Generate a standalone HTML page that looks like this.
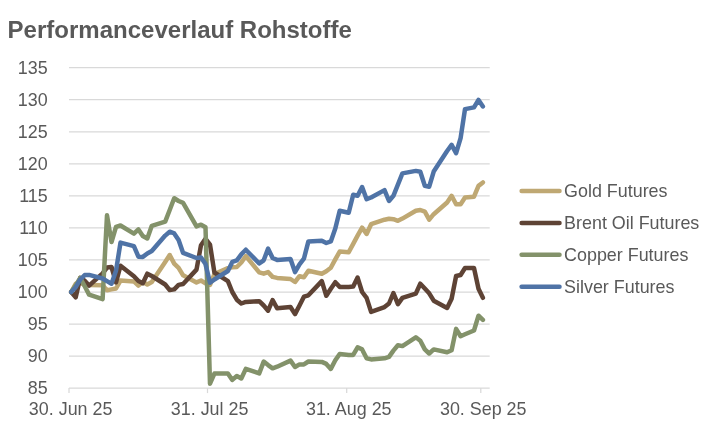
<!DOCTYPE html>
<html lang="de"><head><meta charset="utf-8"><title>Performanceverlauf Rohstoffe</title>
<style>html,body{margin:0;padding:0;background:#fff}svg{display:block;filter:blur(0.4px)}</style></head>
<body>
<svg width="720" height="432" viewBox="0 0 720 432">
<rect width="720" height="432" fill="#fff"/>
<g stroke="#D9D9D9" stroke-width="1.25" fill="none">
<line x1="69.0" y1="388.1" x2="489.7" y2="388.1"/>
<line x1="69.0" y1="356.1" x2="489.7" y2="356.1"/>
<line x1="69.0" y1="324.1" x2="489.7" y2="324.1"/>
<line x1="69.0" y1="292.0" x2="489.7" y2="292.0"/>
<line x1="69.0" y1="259.9" x2="489.7" y2="259.9"/>
<line x1="69.0" y1="227.9" x2="489.7" y2="227.9"/>
<line x1="69.0" y1="195.8" x2="489.7" y2="195.8"/>
<line x1="69.0" y1="163.8" x2="489.7" y2="163.8"/>
<line x1="69.0" y1="131.8" x2="489.7" y2="131.8"/>
<line x1="69.0" y1="99.7" x2="489.7" y2="99.7"/>
<line x1="69.0" y1="67.7" x2="489.7" y2="67.7"/>
<line x1="69.0" y1="388.1" x2="69.0" y2="393.1"/>
<line x1="207.5" y1="388.1" x2="207.5" y2="393.1"/>
<line x1="346.7" y1="388.1" x2="346.7" y2="393.1"/>
<line x1="480.8" y1="388.1" x2="480.8" y2="393.1"/>
</g>
<g font-family="'Liberation Sans', Arial, Helvetica, sans-serif" fill="#595959">
<text x="7.6" y="37.6" font-size="23.6" font-weight="bold" textLength="344.3" lengthAdjust="spacingAndGlyphs">Performanceverlauf Rohstoffe</text>
<g font-size="17.9" text-anchor="end">
<text x="47.7" y="394.2">85</text>
<text x="47.7" y="362.2">90</text>
<text x="47.7" y="330.1">95</text>
<text x="47.7" y="298.1">100</text>
<text x="47.7" y="266.0">105</text>
<text x="47.7" y="234.0">110</text>
<text x="47.7" y="201.9">115</text>
<text x="47.7" y="169.9">120</text>
<text x="47.7" y="137.8">125</text>
<text x="47.7" y="105.7">130</text>
<text x="47.7" y="73.7">135</text>
</g>
<g font-size="17.9" text-anchor="middle">
<text x="70.65" y="415.4">30. Jun 25</text>
<text x="209.6" y="415.4">31. Jul 25</text>
<text x="348.75" y="415.4">31. Aug 25</text>
<text x="483.25" y="415.4">30. Sep 25</text>
</g>
<g font-size="17.9">
<text x="564.1" y="197.3">Gold Futures</text>
<text x="564.1" y="229.2">Brent Oil Futures</text>
<text x="564.1" y="261.1">Copper Futures</text>
<text x="564.1" y="293.0">Silver Futures</text>
</g></g>
<g fill="none" stroke-width="4.5" stroke-linecap="round" stroke-linejoin="round">
<line x1="521.6" y1="191.0" x2="559.5" y2="191.0" stroke="#BFA873"/>
<line x1="521.6" y1="222.9" x2="559.5" y2="222.9" stroke="#5E4335"/>
<line x1="521.6" y1="254.8" x2="559.5" y2="254.8" stroke="#83926A"/>
<line x1="521.6" y1="286.7" x2="559.5" y2="286.7" stroke="#4F73A6"/>
<polyline stroke="#BFA873" points="71.2,292.0 75.7,283.7 80.2,282.7 84.7,285.1 89.1,285.1 102.6,285.3 107.0,290.3 111.5,289.4 116.0,288.5 120.5,280.6 133.9,281.4 138.4,285.6 142.8,282.0 147.3,284.5 151.8,282.0 165.2,261.9 169.7,255.0 174.2,263.6 178.6,267.8 183.1,275.3 196.5,282.4 201.0,280.5 205.5,283.3 210.0,284.9 214.4,274.1 227.9,268.1 232.3,267.3 236.8,267.0 241.3,262.5 245.8,256.0 259.2,272.4 263.7,273.7 268.1,272.1 272.6,276.9 277.1,277.9 290.5,279.0 295.0,282.0 299.5,276.2 303.9,277.3 308.4,270.7 321.8,273.7 326.3,271.2 330.8,267.8 335.3,259.4 339.7,251.6 348.7,252.3 353.2,243.9 357.6,235.6 362.1,227.6 366.6,234.0 371.1,224.2 384.5,219.7 389.0,218.7 393.4,219.2 397.9,220.8 402.4,218.6 415.8,210.8 420.3,210.0 424.8,211.7 429.2,219.7 433.7,214.2 447.1,202.5 451.6,195.8 456.1,204.2 460.6,204.2 465.0,197.5 474.0,196.7 478.5,185.9 482.9,182.5"/>
<polyline stroke="#5E4335" points="71.2,292.0 75.7,297.3 80.2,277.9 84.7,280.7 89.1,285.6 102.6,273.4 107.0,267.6 111.5,267.0 116.0,282.4 120.5,265.7 133.9,276.2 138.4,281.1 142.8,283.3 147.3,273.7 151.8,276.0 165.2,284.5 169.7,290.1 174.2,289.4 178.6,284.9 183.1,284.0 196.5,269.6 201.0,245.2 205.5,238.8 210.0,244.6 214.4,272.5 227.9,281.1 232.3,292.0 236.8,299.7 241.3,303.5 245.8,301.9 259.2,301.2 263.7,305.5 268.1,310.7 272.6,300.0 277.1,308.3 290.5,307.0 295.0,314.1 299.5,305.5 303.9,296.7 308.4,295.3 321.8,281.1 326.3,295.8 330.8,288.8 335.3,282.2 339.7,286.9 348.7,286.9 353.2,286.6 357.6,277.6 362.1,292.0 366.6,297.9 371.1,311.9 384.5,307.1 389.0,303.5 393.4,293.0 397.9,304.2 402.4,297.9 415.8,293.6 420.3,283.7 424.8,288.5 429.2,293.3 433.7,300.7 447.1,308.0 451.6,298.7 456.1,276.0 460.6,275.0 465.0,268.0 474.0,268.0 478.5,288.8 482.9,297.8"/>
<polyline stroke="#83926A" points="71.2,292.0 75.7,285.3 80.2,277.9 84.7,286.2 89.1,294.6 102.6,299.1 107.0,215.3 111.5,242.0 116.0,226.9 120.5,225.5 133.9,233.7 138.4,229.4 142.8,236.0 147.3,238.5 151.8,225.8 165.2,221.6 169.7,210.0 174.2,198.2 178.6,201.0 183.1,202.9 196.5,226.4 201.0,224.7 205.5,227.3 210.0,383.7 214.4,373.6 227.9,373.4 232.3,379.9 236.8,376.0 241.3,378.5 245.8,368.9 259.2,373.4 263.7,361.6 268.1,365.1 272.6,368.3 277.1,366.7 290.5,360.6 295.0,367.0 299.5,364.4 303.9,364.4 308.4,361.5 321.8,361.9 326.3,363.9 330.8,368.9 335.3,360.3 339.7,353.9 348.7,354.9 353.2,354.9 357.6,347.3 362.1,349.4 366.6,358.3 371.1,359.4 384.5,358.3 389.0,356.9 393.4,350.6 397.9,345.2 402.4,346.1 415.8,337.3 420.3,340.7 424.8,349.4 429.2,353.5 433.7,349.4 447.1,352.3 451.6,350.3 456.1,328.9 460.6,336.2 465.0,334.3 474.0,330.5 478.5,315.7 482.9,319.9"/>
<polyline stroke="#4F73A6" points="71.2,292.0 75.7,287.2 80.2,279.5 84.7,275.1 89.1,274.9 102.6,278.5 107.0,281.1 111.5,283.7 116.0,270.8 120.5,242.6 133.9,246.1 138.4,256.7 142.8,256.9 147.3,253.5 151.8,251.0 165.2,235.6 169.7,231.7 174.2,233.4 178.6,240.1 183.1,252.9 196.5,258.0 201.0,257.4 205.5,264.1 210.0,282.8 214.4,279.5 227.9,271.0 232.3,261.9 236.8,260.3 241.3,254.3 245.8,249.7 259.2,263.5 263.7,260.3 268.1,248.6 272.6,258.0 277.1,259.9 290.5,258.9 295.0,272.1 299.5,264.4 303.9,258.7 308.4,241.4 321.8,240.7 326.3,243.0 330.8,241.4 335.3,228.5 339.7,210.7 348.7,212.8 353.2,194.7 357.6,195.8 362.1,187.0 366.6,199.2 371.1,197.5 384.5,190.1 389.0,201.0 393.4,195.8 397.9,184.6 402.4,173.4 415.8,170.9 420.3,171.8 424.8,185.7 429.2,186.7 433.7,171.6 447.1,151.0 451.6,144.9 456.1,153.2 460.6,138.2 465.0,109.1 474.0,107.4 478.5,99.9 482.9,106.4"/>
</g></svg>
</body></html>
